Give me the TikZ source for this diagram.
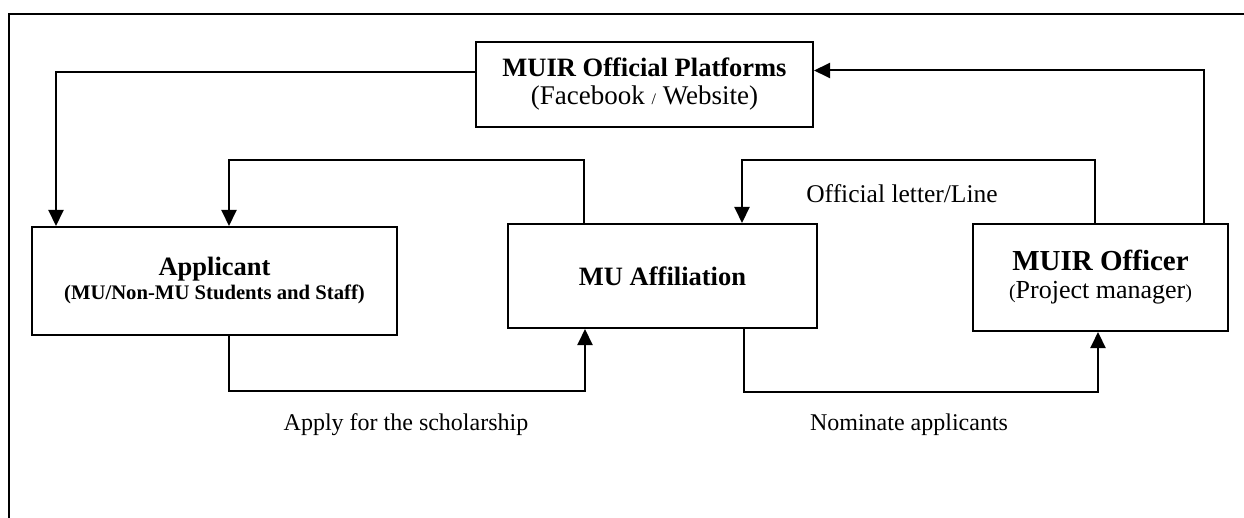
\documentclass[tikz,border=0pt]{standalone}
\usepackage{fontspec}
\setmainfont{Liberation Serif}
\usetikzlibrary{arrows.meta}
\tikzset{
  box/.style={draw, line width=2pt, inner sep=0pt, align=center, font=\fontsize{26}{28}\selectfont},
  arr/.style={line width=2pt, -{Triangle[length=16pt, width=15pt]}},
  lbl/.style={anchor=base, inner sep=0pt, font=\fontsize{24}{28}\selectfont},
}
\newcommand{\hd}{\bfseries\fontsize{26.5}{28}\selectfont}
\newcommand{\sub}[1]{\fontsize{#1}{28}\selectfont}
\begin{document}
\begin{tikzpicture}[x=1pt, y=-1pt]
    \useasboundingbox (0,0) rectangle (1244,518);
    \clip (0,0) rectangle (1244,518);
    \draw[line width=2pt] (9,540) |- (1270,14);

    \node[box, minimum width=337pt, minimum height=85pt] (plat) at (644.5,84.5)
        {{\hd MUIR Official Platforms}\\{\sub{27}(Facebook {\sub{16}/} Website)}};
    \node[box, minimum width=365pt, minimum height=108pt] (appl) at (214.5,281)
        {{\hd Applicant}\\[-4pt]{\bfseries\sub{20.7}(MU/Non-MU Students and Staff)}};
    \node[box, minimum width=309pt, minimum height=104pt] (aff) at (662.5,276)
        {\hd MU Affiliation};
    \node[box, minimum width=255pt, minimum height=107pt] (off) at (1100.5,277.5)
        {{\bfseries\fontsize{29}{28}\selectfont MUIR Officer}\\{\sub{26}{\sub{20}(}Project manager{\sub{20})}}};

    \draw[arr] ([yshift=12pt]plat.west) -| ([xshift=25pt]appl.north west);
    \draw[arr] ([xshift=-25pt]off.north east) |- ([yshift=14pt]plat.east);
    \draw[arr] ([xshift=77pt]aff.north west) -- ++(0,-63) -| ([xshift=14.5pt]appl.north);
    \draw[arr] ([xshift=123pt]off.north west) -- ++(0,-63) -| ([xshift=-76pt]aff.north east);
    \draw[arr] ([xshift=198pt]appl.south west) -- ++(0,55) -| ([xshift=78pt]aff.south west);
    \draw[arr] ([xshift=-74pt]aff.south east) -- ++(0,63) -| ([xshift=126pt]off.south west);

    \node[lbl, font=\fontsize{25.5}{28}\selectfont] (letter) at (902,203) {Official letter/Line};
    \node[lbl] (apply) at (406,430) {Apply for the scholarship};
    \node[lbl] (nominate) at (909,430) {Nominate applicants};
\end{tikzpicture}
\end{document}
